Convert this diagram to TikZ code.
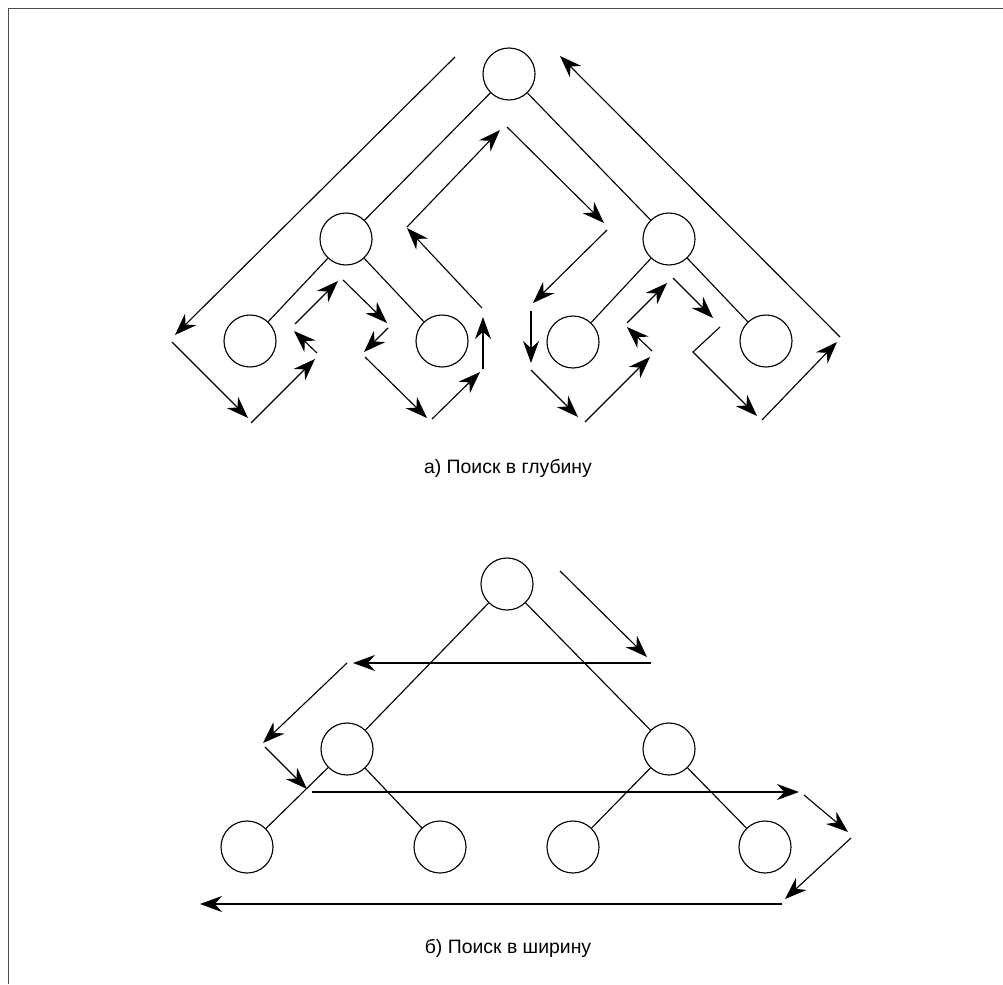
\documentclass[tikz,border=0pt]{standalone}
\usepackage{fontspec}
\setmainfont{Liberation Sans}
\usetikzlibrary{arrows.meta}
\tikzstyle{vertex} = [circle, draw, minimum size=1.3cm, inner sep=0pt, line width=0.8pt]
\tikzstyle{edge} = [line width=0.8pt]
\tikzstyle{arrow} = [-{Stealth[length=5.5mm, width=4mm]}, line width=0.8pt]
\tikzstyle{caption} = [anchor=base, font=\fontsize{13.8}{16}\selectfont]

\begin{document}
\begin{tikzpicture}[x=0.025cm, y=-0.025cm]

\useasboundingbox (0,0) rectangle (1003,984);

% Frame
\draw[line width=0.6pt, black!70] (8,984) -- (8,8) -- (1003,8);

% Tree a)
\node[vertex] (aroot) at (509,74) {};
\node[vertex] (aleft) at (346,239) {};
\node[vertex] (aright) at (669,239) {};
\node[vertex] (aleaf1) at (250,341) {};
\node[vertex] (aleaf2) at (442,341) {};
\node[vertex] (aleaf3) at (573,342) {};
\node[vertex] (aleaf4) at (766,341) {};

\draw[edge] (aroot) -- (aleft);
\draw[edge] (aroot) -- (aright);
\draw[edge] (aleft) -- (aleaf1);
\draw[edge] (aleft) -- (aleaf2);
\draw[edge] (aright) -- (aleaf3);
\draw[edge] (aright) -- (aleaf4);

% Depth-first walk
\coordinate (d1s) at (455,57);   \coordinate (d1e) at (175,335);
\coordinate (d2s) at (172,342);  \coordinate (d2e) at (248,418);
\coordinate (d3s) at (251,423);  \coordinate (d3e) at (315,359);
\coordinate (d4s) at (317,353);  \coordinate (d4e) at (294,331);
\coordinate (d5s) at (295,324);  \coordinate (d5e) at (338,281);
\coordinate (d6s) at (343,280);  \coordinate (d6e) at (387,323);
\coordinate (d7s) at (388,328);  \coordinate (d7e) at (364,352);
\coordinate (d8s) at (365,357);  \coordinate (d8e) at (427,418);
\coordinate (d9s) at (432,419);  \coordinate (d9e) at (480,372);
\coordinate (d10s) at (483,369); \coordinate (d10e) at (483,317);
\coordinate (d11s) at (482,308); \coordinate (d11e) at (407,228);
\coordinate (d12s) at (407,227); \coordinate (d12e) at (500,130);
\coordinate (d13s) at (507,127); \coordinate (d13e) at (604,223);
\coordinate (d14s) at (607,230); \coordinate (d14e) at (533,303);
\coordinate (d15s) at (531,311); \coordinate (d15e) at (531,363);
\coordinate (d16s) at (531,370); \coordinate (d16e) at (578,417);
\coordinate (d17s) at (585,422); \coordinate (d17e) at (650,357);
\coordinate (d18s) at (652,351); \coordinate (d18e) at (627,327);
\coordinate (d19s) at (627,323); \coordinate (d19e) at (667,283);
\coordinate (d20s) at (673,278); \coordinate (d20e) at (713,318);
\coordinate (d21s) at (720,327); \coordinate (d21m) at (693,352); \coordinate (d21e) at (757,416);
\coordinate (d22s) at (762,420); \coordinate (d22e) at (837,342);
\coordinate (d23s) at (840,337); \coordinate (d23e) at (560,56);

\draw[arrow] (d1s) -- (d1e);
\draw[arrow] (d2s) -- (d2e);
\draw[arrow] (d3s) -- (d3e);
\draw[arrow] (d4s) -- (d4e);
\draw[arrow] (d5s) -- (d5e);
\draw[arrow] (d6s) -- (d6e);
\draw[arrow] (d7s) -- (d7e);
\draw[arrow] (d8s) -- (d8e);
\draw[arrow] (d9s) -- (d9e);
\draw[arrow] (d10s) -- (d10e);
\draw[arrow] (d11s) -- (d11e);
\draw[arrow] (d12s) -- (d12e);
\draw[arrow] (d13s) -- (d13e);
\draw[arrow] (d14s) -- (d14e);
\draw[arrow] (d15s) -- (d15e);
\draw[arrow] (d16s) -- (d16e);
\draw[arrow] (d17s) -- (d17e);
\draw[arrow] (d18s) -- (d18e);
\draw[arrow] (d19s) -- (d19e);
\draw[arrow] (d20s) -- (d20e);
\draw[arrow] (d21s) -- (d21m) -- (d21e);
\draw[arrow] (d22s) -- (d22e);
\draw[arrow] (d23s) -- (d23e);

\node[caption] (capa) at (508,473) {а) Поиск в глубину};

% Tree b)
\node[vertex] (broot) at (507,584) {};
\node[vertex] (bleft) at (347,749) {};
\node[vertex] (bright) at (669,749) {};
\node[vertex] (bleaf1) at (247,847) {};
\node[vertex] (bleaf2) at (440,847) {};
\node[vertex] (bleaf3) at (573,847) {};
\node[vertex] (bleaf4) at (765,847) {};

\draw[edge] (broot) -- (bleft);
\draw[edge] (broot) -- (bright);
\draw[edge] (bleft) -- (bleaf1);
\draw[edge] (bleft) -- (bleaf2);
\draw[edge] (bright) -- (bleaf3);
\draw[edge] (bright) -- (bleaf4);

% Breadth-first walk
\coordinate (w1s) at (560,571); \coordinate (w1e) at (647,657);
\coordinate (w2s) at (651,663); \coordinate (w2e) at (353,663);
\coordinate (w3s) at (347,663); \coordinate (w3e) at (263,743);
\coordinate (w4s) at (265,747); \coordinate (w4e) at (307,789);
\coordinate (w5s) at (312,792); \coordinate (w5e) at (799,792);
\coordinate (w6s) at (804,795); \coordinate (w6e) at (848,832);
\coordinate (w7s) at (851,838); \coordinate (w7e) at (785,899);
\coordinate (w8s) at (782,904); \coordinate (w8e) at (200,904);

\draw[arrow] (w1s) -- (w1e);
\draw[arrow] (w2s) -- (w2e);
\draw[arrow] (w3s) -- (w3e);
\draw[arrow] (w4s) -- (w4e);
\draw[arrow] (w5s) -- (w5e);
\draw[arrow] (w6s) -- (w6e);
\draw[arrow] (w7s) -- (w7e);
\draw[arrow] (w8s) -- (w8e);

\node[caption] (capb) at (508,953) {б) Поиск в ширину};

\end{tikzpicture}
\end{document}
